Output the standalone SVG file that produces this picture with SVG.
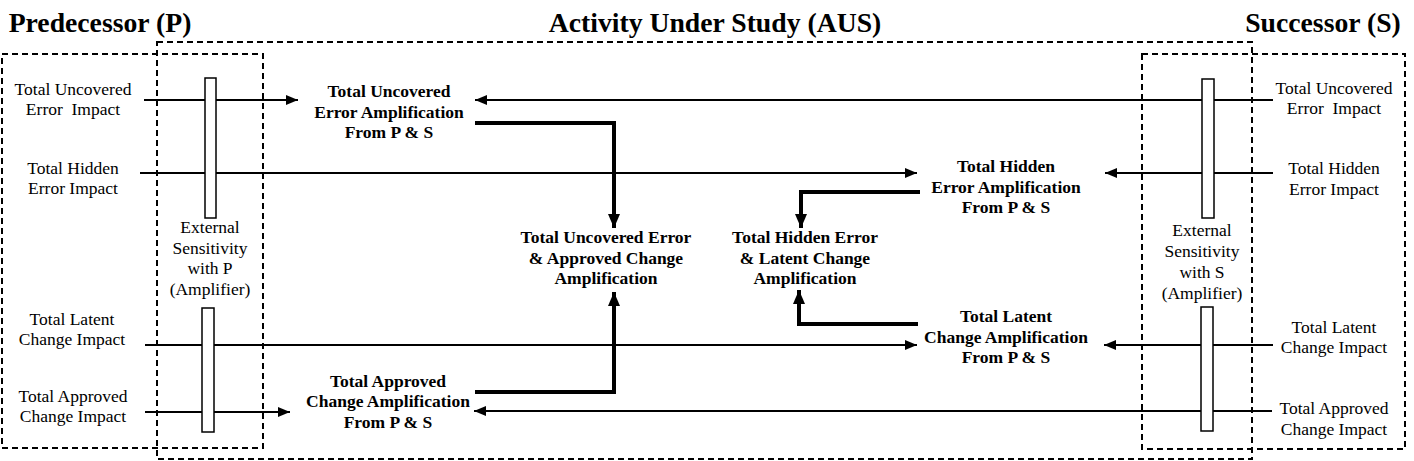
<svg xmlns="http://www.w3.org/2000/svg" width="1414" height="461" viewBox="0 0 1414 461">
<defs>
<marker id="ah" viewBox="0 0 12 10" refX="12" refY="5" markerWidth="12" markerHeight="10" markerUnits="userSpaceOnUse" orient="auto"><path d="M0,0 L12,5 L0,10 Z" fill="#000"/></marker>
<marker id="ahb" viewBox="0 0 14 12" refX="14" refY="6" markerWidth="14" markerHeight="12" markerUnits="userSpaceOnUse" orient="auto"><path d="M0,0 L14,6 L0,12 Z" fill="#000"/></marker>
<style>
.t{font-family:"Liberation Serif","Times New Roman",serif;fill:#000;text-anchor:middle}
.h{font-size:27.7px;font-weight:bold}
.r{font-size:17.5px}
.b{font-size:17.5px;font-weight:bold}
.pre{white-space:pre}
.box{fill:none;stroke:#000;stroke-width:2;stroke-dasharray:6,4}
.amp{fill:#fff;stroke:#000;stroke-width:1.5}
.thin{fill:none;stroke:#000;stroke-width:2}
.thick{fill:none;stroke:#000;stroke-width:4}
</style>
</defs>
<rect width="1414" height="461" fill="#fff"/>
<g id="titles">
<text class="t h" x="100" y="32">Predecessor (P)</text>
<text class="t h" x="715" y="32">Activity Under Study (AUS)</text>
<text class="t h" x="1323" y="32">Successor (S)</text>
</g>
<g id="regions">
<rect id="aus-box" class="box" x="157" y="42" width="1095" height="417"/>
<rect id="pred-box" class="box" x="2" y="54" width="261" height="394"/>
<rect id="succ-box" class="box" x="1142" y="54" width="263" height="395"/>
</g>
<g id="connectors">
<line class="thin" x1="144" y1="100" x2="298" y2="100" marker-end="url(#ah)"/>
<line class="thin" x1="1273" y1="100" x2="475" y2="100" marker-end="url(#ah)"/>
<line class="thin" x1="140" y1="173" x2="917" y2="173" marker-end="url(#ah)"/>
<line class="thin" x1="1273" y1="173" x2="1105" y2="173" marker-end="url(#ah)"/>
<line class="thin" x1="145" y1="345" x2="917" y2="345" marker-end="url(#ah)"/>
<line class="thin" x1="1273" y1="345" x2="1104" y2="345" marker-end="url(#ah)"/>
<line class="thin" x1="145" y1="412" x2="290" y2="412" marker-end="url(#ah)"/>
<line class="thin" x1="1272" y1="411" x2="474" y2="411" marker-end="url(#ah)"/>
<path class="thick" d="M475,123 H614 V228" marker-end="url(#ahb)"/>
<path class="thick" d="M475,392 H614 V292" marker-end="url(#ahb)"/>
<path class="thick" d="M920,192 H801 V228" marker-end="url(#ahb)"/>
<path class="thick" d="M918,324 H799 V290" marker-end="url(#ahb)"/>
</g>
<g id="amp-p">
<rect class="amp" x="205" y="78" width="11" height="140"/>
<rect class="amp" x="202" y="308" width="12" height="124"/>
<text class="t r"><tspan x="210" y="233">External</tspan><tspan x="210" y="254">Sensitivity</tspan><tspan x="210" y="274">with P</tspan><tspan x="210" y="295">(Amplifier)</tspan></text>
</g>
<g id="amp-s">
<rect class="amp" x="1202" y="79" width="12" height="139"/>
<rect class="amp" x="1201" y="307" width="12" height="124"/>
<text class="t r"><tspan x="1202" y="236">External</tspan><tspan x="1202" y="257">Sensitivity</tspan><tspan x="1202" y="278">with S</tspan><tspan x="1202" y="299">(Amplifier)</tspan></text>
</g>
<g id="p-uncovered"><text class="t r pre"><tspan x="73" y="95">Total Uncovered</tspan><tspan x="73" y="115">Error  Impact</tspan></text></g>
<g id="p-hidden"><text class="t r"><tspan x="73" y="174">Total Hidden</tspan><tspan x="73" y="194">Error Impact</tspan></text></g>
<g id="p-latent"><text class="t r"><tspan x="72" y="325">Total Latent</tspan><tspan x="72" y="345">Change Impact</tspan></text></g>
<g id="p-approved"><text class="t r"><tspan x="73" y="402">Total Approved</tspan><tspan x="73" y="422">Change Impact</tspan></text></g>
<g id="s-uncovered"><text class="t r pre"><tspan x="1334" y="94">Total Uncovered</tspan><tspan x="1334" y="114">Error  Impact</tspan></text></g>
<g id="s-hidden"><text class="t r"><tspan x="1334" y="174">Total Hidden</tspan><tspan x="1334" y="195">Error Impact</tspan></text></g>
<g id="s-latent"><text class="t r"><tspan x="1334" y="333">Total Latent</tspan><tspan x="1334" y="353">Change Impact</tspan></text></g>
<g id="s-approved"><text class="t r"><tspan x="1334" y="414">Total Approved</tspan><tspan x="1334" y="435">Change Impact</tspan></text></g>
<g id="uncovered-amp"><text class="t b"><tspan x="389" y="97">Total Uncovered</tspan><tspan x="389" y="118">Error Amplification</tspan><tspan x="389" y="138">From P &amp; S</tspan></text></g>
<g id="hidden-amp"><text class="t b"><tspan x="1006" y="172">Total Hidden</tspan><tspan x="1006" y="193">Error Amplification</tspan><tspan x="1006" y="213">From P &amp; S</tspan></text></g>
<g id="latent-amp"><text class="t b"><tspan x="1006" y="322">Total Latent</tspan><tspan x="1006" y="343">Change Amplification</tspan><tspan x="1006" y="363">From P &amp; S</tspan></text></g>
<g id="approved-amp"><text class="t b"><tspan x="388" y="387">Total Approved</tspan><tspan x="388" y="407">Change Amplification</tspan><tspan x="388" y="428">From P &amp; S</tspan></text></g>
<g id="uncovered-approved-amp"><text class="t b"><tspan x="606" y="243">Total Uncovered Error</tspan><tspan x="606" y="264">&amp; Approved Change</tspan><tspan x="606" y="284">Amplification</tspan></text></g>
<g id="hidden-latent-amp"><text class="t b"><tspan x="805" y="243">Total Hidden Error</tspan><tspan x="805" y="264">&amp; Latent Change</tspan><tspan x="805" y="284">Amplification</tspan></text></g>
</svg>
